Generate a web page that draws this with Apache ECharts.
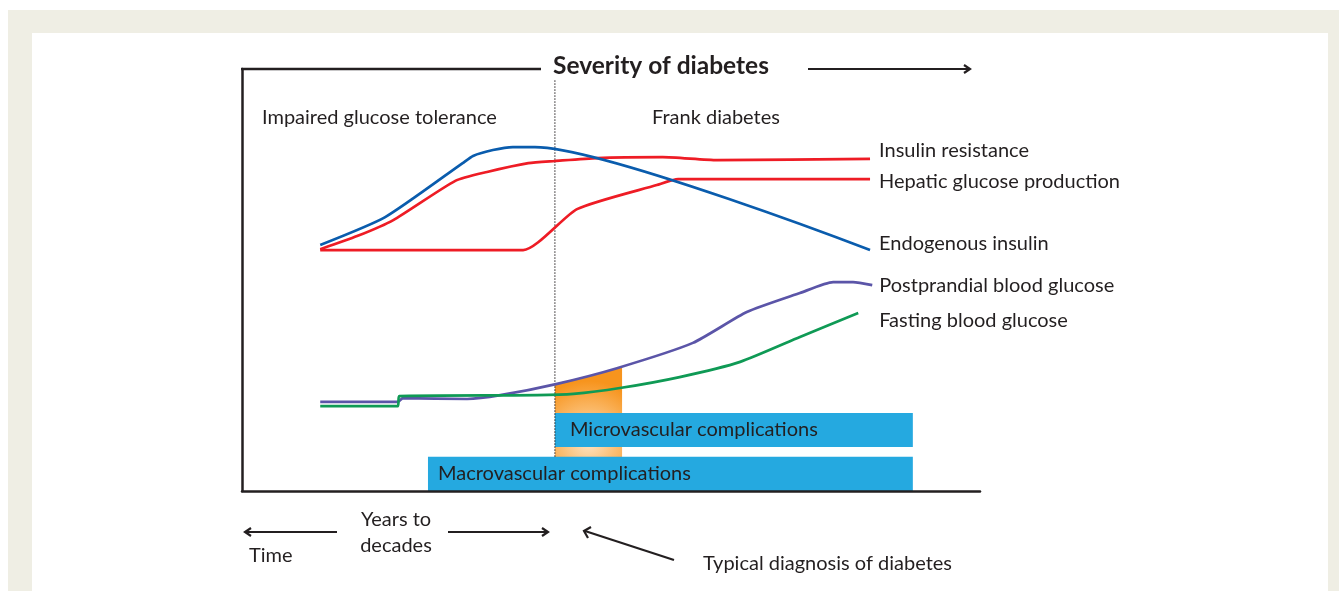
<!DOCTYPE html>
<html>
<head>
<meta charset="utf-8">
<title>Severity of diabetes</title>
<script src="https://cdn.jsdelivr.net/npm/echarts@6/dist/echarts.min.js"></script>
<style>
  html, body { margin: 0; padding: 0; background: #fff; }
  #frame { position: absolute; left: 8px; top: 10px; width: 1331px; height: 581px; background: #efeee4; }
  #panel { position: absolute; left: 32px; top: 33px; width: 1296px; height: 558px; background: #fff; }
  #chart { position: absolute; left: 0; top: 0; width: 1339px; height: 591px; }
</style>
</head>
<body>
<div id="frame"></div>
<div id="panel"></div>
<div id="chart"></div>
<script>
// x = time (0-100), y = severity (0-100)
const insulinResistance = [[10.6, 57.3], [15.6, 60.4], [20.5, 64.2], [28.9, 73.5], [33.2, 75.6], [38.8, 77.7], [42.4, 78.2], [48.1, 78.9], [57.0, 79.1], [64.4, 78.4], [85.1, 78.7]];
const hepaticGlucose = [[10.6, 57.1], [38.1, 57.1], [45.4, 66.8], [56.2, 72.5], [59.1, 73.9], [85.1, 73.9]];
const endogenousInsulin = [[10.6, 58.3], [19.4, 64.9], [29.9, 77.7], [31.3, 79.4], [34.0, 80.8], [36.7, 81.5], [39.7, 81.5], [85.1, 57.1]];
const postprandial = [[10.6, 21.1], [21.1, 21.1], [21.8, 22.0], [30.5, 21.8], [35.0, 22.7], [42.7, 25.4], [50.8, 29.1], [61.1, 35.1], [68.4, 42.4], [75.6, 46.9], [80.1, 49.5], [82.8, 49.5], [85.4, 48.8]];
const fasting = [[10.6, 20.1], [21.1, 20.1], [21.3, 22.5], [40.0, 22.7], [44.9, 23.0], [51.2, 24.4], [59.3, 27.0], [67.5, 30.6], [75.6, 36.5], [83.5, 42.2]];
const diagnosisBand = [[42.4, 25.4], [46.9, 27.3], [51.5, 29.4]];
const diagnosisLine = [[42.4, 8.1], [42.4, 97.4]];
// [xStart, xEnd, yBottom, yTop]
const complications = [[42.4, 90.9, 10.4, 18.5], [25.2, 90.9, 0, 8.1]];
const complicationNames = ['Microvascular complications', 'Macrovascular complications'];

const ink = '#231f20';
const font = 'Lato';

const chart = echarts.init(document.getElementById('chart'));

function curve(name, data, color, dy, dx) {
  return {
    name: name,
    type: 'line',
    data: data,
    smooth: 0.2,
    symbol: 'none',
    z: 4,
    lineStyle: { color: color, width: 2.7 },
    endLabel: {
      show: true,
      formatter: name,
      distance: dx,
      offset: [0, dy],
      color: ink,
      fontSize: 20,
      fontFamily: font
    }
  };
}

function arrowHead(x, y, dir) {
  // open chevron, dir = 1 points right, -1 points left
  return {
    type: 'polyline',
    shape: { points: [[x - dir * 6, y - 4], [x, y], [x - dir * 6, y + 4]] },
    style: { stroke: ink, lineWidth: 2.2, fill: null }
  };
}

function txt(text, x, y, size, weight, align) {
  return {
    type: 'text',
    style: {
      text: text, x: x, y: y, fill: ink,
      font: (weight || 'normal') + ' ' + size + 'px ' + font,
      align: align || 'left', verticalAlign: 'middle'
    }
  };
}

chart.setOption({
  backgroundColor: 'transparent',
  animation: false,
  grid: { left: 242, right: 359, top: 69, bottom: 100 },
  xAxis: {
    type: 'value', min: 0, max: 100, z: 10,
    axisLine: { show: true, lineStyle: { color: ink, width: 2.5 } },
    axisTick: { show: false }, axisLabel: { show: false }, splitLine: { show: false }
  },
  yAxis: {
    type: 'value', min: 0, max: 100, z: 10,
    axisLine: { show: true, lineStyle: { color: ink, width: 2.5 } },
    axisTick: { show: false }, axisLabel: { show: false }, splitLine: { show: false }
  },
  series: [
    {
      type: 'line',
      data: diagnosisBand,
      smooth: true,
      symbol: 'none',
      z: 1,
      lineStyle: { width: 0 },
      areaStyle: {
        opacity: 1,
        color: new echarts.graphic.RadialGradient(0.5, 0.6, 0.9, [
          { offset: 0, color: '#fee6c8' },
          { offset: 0.45, color: '#fbbf75' },
          { offset: 1, color: '#f7941d' }
        ])
      }
    },
    {
      type: 'custom',
      z: 2,
      data: complications,
      renderItem: function (params, api) {
        const a = api.coord([api.value(0), api.value(3)]);
        const b = api.coord([api.value(1), api.value(2)]);
        const pad = params.dataIndex === 0 ? 15 : 10;
        return {
          type: 'group',
          children: [
            { type: 'rect', shape: { x: a[0], y: a[1], width: b[0] - a[0], height: b[1] - a[1] }, style: { fill: '#25a9e0' } },
            { type: 'text', style: { text: complicationNames[params.dataIndex], x: a[0] + pad, y: (a[1] + b[1]) / 2, verticalAlign: 'middle', fill: ink, font: '20px ' + font } }
          ]
        };
      }
    },
    {
      type: 'line',
      data: diagnosisLine,
      symbol: 'none',
      z: 3,
      lineStyle: { color: ink, width: 1, type: [1.5, 1.5] }
    },
    curve('Insulin resistance', insulinResistance, '#ee1c25', -8, 9),
    curve('Hepatic glucose production', hepaticGlucose, '#ee1c25', 2, 9),
    curve('Endogenous insulin', endogenousInsulin, '#0a5cad', -6, 9),
    curve('Postprandial blood glucose', postprandial, '#5b55a8', 0, 7),
    curve('Fasting blood glucose', fasting, '#0f9a55', 8, 21)
  ],
  graphic: [
    { type: 'line', shape: { x1: 241, y1: 69, x2: 541, y2: 69 }, style: { stroke: ink, lineWidth: 2.5 } },
    txt('Severity of diabetes', 553, 66, 24.5, 'bold'),
    { type: 'line', shape: { x1: 808, y1: 69, x2: 970, y2: 69 }, style: { stroke: ink, lineWidth: 2.2 } },
    arrowHead(970, 69, 1),
    txt('Impaired glucose tolerance', 262, 118, 20),
    txt('Frank diabetes', 652, 118, 20),
    // time arrows under the axis
    { type: 'line', shape: { x1: 245, y1: 532, x2: 337, y2: 532 }, style: { stroke: ink, lineWidth: 2.2 } },
    arrowHead(245, 532, -1),
    { type: 'line', shape: { x1: 448, y1: 532, x2: 548, y2: 532 }, style: { stroke: ink, lineWidth: 2.2 } },
    arrowHead(548, 532, 1),
    txt('Years to', 396, 520, 20, 'normal', 'center'),
    txt('decades', 396, 546, 20, 'normal', 'center'),
    txt('Time', 249, 556, 20),
    { type: 'line', shape: { x1: 674, y1: 560, x2: 585, y2: 531 }, style: { stroke: ink, lineWidth: 2.2 } },
    {
      type: 'polyline',
      shape: { points: [[591, 527], [584, 531], [588, 538]] },
      style: { stroke: ink, lineWidth: 2.2, fill: null }
    },
    txt('Typical diagnosis of diabetes', 703, 564, 20)
  ]
});
</script>
</body>
</html>
